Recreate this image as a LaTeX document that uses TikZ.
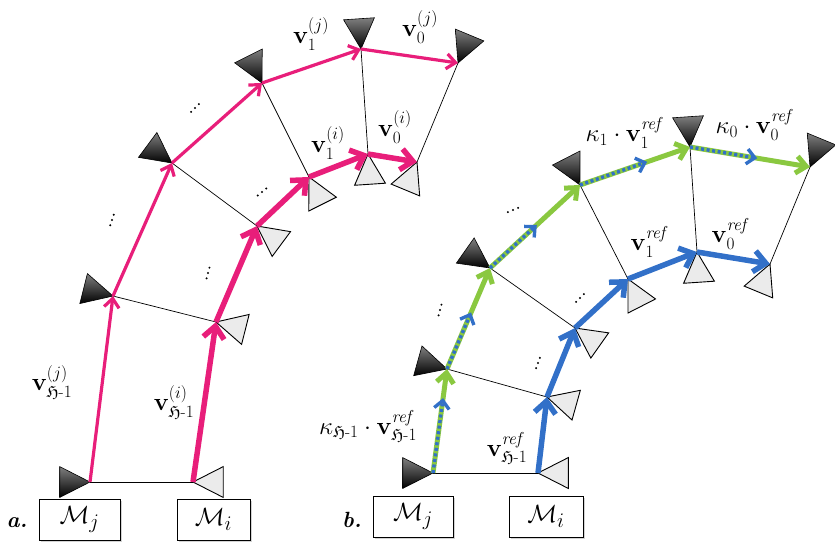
\documentclass[tikz,border=0pt]{standalone}
\usepackage{amsmath,amssymb}
\usepackage{xcolor}
\usepackage{tikz}
\usetikzlibrary{arrows.meta,calc,shadows}
\definecolor{hotpink}{RGB}{232,30,122}
\definecolor{refblue}{RGB}{50,112,200}
\definecolor{refgreen}{RGB}{138,200,64}
\newcommand{\Hset}{\mathfrak{H}}
\newcommand{\darktri}[2]{\path[darktri] (#1) -- ($(#1)!34pt!153:(#2)$) -- ($(#1)!34pt!-153:(#2)$) -- cycle;}
\newcommand{\lighttri}[2]{\path[lighttri] (#1) -- ($(#1)!34pt!153:(#2)$) -- ($(#1)!34pt!-153:(#2)$) -- cycle;}

\begin{document}
\begin{tikzpicture}[x=1pt, y=-1pt,
  darktri/.style={draw=black, line width=0.6pt, top color=black!50, bottom color=black},
  lighttri/.style={draw=black, line width=0.9pt, fill=black!8},
  rung/.style={draw=black, line width=0.7pt},
  outer/.style={hotpink, line width=3.2pt, -{Straight Barb[length=9pt,width=15pt]}},
  inner/.style={hotpink, line width=5.5pt, -{Straight Barb[length=12pt,width=21pt]}},
  kgreen/.style={refgreen, line width=5pt, -{Straight Barb[length=10pt,width=17pt]}},
  kdots/.style={refblue, line width=3.4pt, dash pattern=on 3pt off 2.6pt, -{Straight Barb[length=8pt,width=15pt]}},
  refarr/.style={refblue, line width=5.5pt, -{Straight Barb[length=12pt,width=21pt]}},
  mbox/.style={draw, line width=1pt, fill=white, minimum height=41pt, inner sep=0pt,
    font=\fontsize{28}{30}\selectfont, drop shadow={shadow xshift=1.5pt, shadow yshift=-1.5pt, opacity=0.35}},
  lbl/.style={inner sep=0pt, font=\fontsize{24}{26}\selectfont},
  tag/.style={inner sep=0pt, font=\fontsize{22}{24}\selectfont\bfseries\itshape}]

  \useasboundingbox (0,0) rectangle (835,542);

  \foreach \k/\pj/\pi in {0/{90,482}/{193,482}, 1/{113,296}/{216,322}, 2/{172,163}/{257,226},
      3/{262,83}/{309,177}, 4/{361,49}/{368,154}, 5/{458,63}/{417,162}} {
    \coordinate (aj\k) at (\pj);
    \coordinate (ai\k) at (\pi);
  }
  \foreach \k/\pj/\pi in {0/{433,473}/{538,473}, 1/{447,369}/{547,397}, 2/{490,268}/{575,328},
      3/{580,185}/{628,279}, 4/{690,147}/{697,252}, 5/{810,167}/{770,264}} {
    \coordinate (bj\k) at (\pj);
    \coordinate (bi\k) at (\pi);
  }

  \foreach \p in {a,b} {
    \foreach \k in {0,...,5} {
      \darktri{\p j\k}{\p i\k}
      \lighttri{\p i\k}{\p j\k}
      \draw[rung] (\p j\k) -- (\p i\k);
    }
  }

  \foreach \k/\n in {0/1,1/2,2/3,3/4,4/5} {
    \draw[outer] (aj\k) -- (aj\n);
    \draw[inner] (ai\k) -- (ai\n);
    \draw[refarr] (bi\k) -- (bi\n);
  }

  \foreach \k/\n/\f in {0/1/0.72, 1/2/0.56, 2/3/0.52, 3/4/0.61, 4/5/0.56} {
    \coordinate (bk\k) at ($(bj\k)!\f!(bj\n)$);
    \draw[kgreen] (bj\k) -- (bj\n);
    \draw[kdots] (bj\k) -- (bk\k);
  }

  \foreach \c/\a in {{112,220}/-72, {195,108}/-45, {208,273}/-75, {262,192}/-40,
      {440,310}/-75, {513,210}/-22, {538,363}/-70, {580,298}/-45}
    \foreach \s in {-5.5,0,5.5}
      \fill ($(\c)+(\a:\s)$) circle (1.1pt);

  \node[lbl] (vjh) at (52,382) {$\mathbf{v}^{(j)}_{\Hset\text{-}1}$};
  \node[lbl] (vih) at (174,402) {$\mathbf{v}^{(i)}_{\Hset\text{-}1}$};
  \node[lbl] (vj1) at (311,34) {$\mathbf{v}^{(j)}_1$};
  \node[lbl] (vj0) at (420,27) {$\mathbf{v}^{(j)}_0$};
  \node[lbl] (vi1) at (328,143) {$\mathbf{v}^{(i)}_1$};
  \node[lbl] (vi0) at (395,127) {$\mathbf{v}^{(i)}_0$};

  \node[lbl] (kh) at (368,426) {$\kappa_{\Hset\text{-}1}\cdot\mathbf{v}^{\mathit{ref}}_{\Hset\text{-}1}$};
  \node[lbl] (rh) at (507,448) {$\mathbf{v}^{\mathit{ref}}_{\Hset\text{-}1}$};
  \node[lbl] (k1) at (625,133) {$\kappa_1\cdot\mathbf{v}^{\mathit{ref}}_1$};
  \node[lbl] (k0) at (755,125) {$\kappa_0\cdot\mathbf{v}^{\mathit{ref}}_0$};
  \node[lbl] (r1) at (650,242) {$\mathbf{v}^{\mathit{ref}}_1$};
  \node[lbl] (r0) at (731,234) {$\mathbf{v}^{\mathit{ref}}_0$};

  \node[mbox, minimum width=81pt] (amj) at (79.5,519.5) {$\mathcal{M}_j$};
  \node[mbox, minimum width=73pt] (ami) at (213.5,519.5) {$\mathcal{M}_i$};
  \node[mbox, minimum width=80pt] (bmj) at (413,516.5) {$\mathcal{M}_j$};
  \node[mbox, minimum width=74pt] (bmi) at (546,516.5) {$\mathcal{M}_i$};
  \node[tag] (ta) at (17,523) {a.};
  \node[tag] (tb) at (352,520) {b.};
\end{tikzpicture}
\end{document}
